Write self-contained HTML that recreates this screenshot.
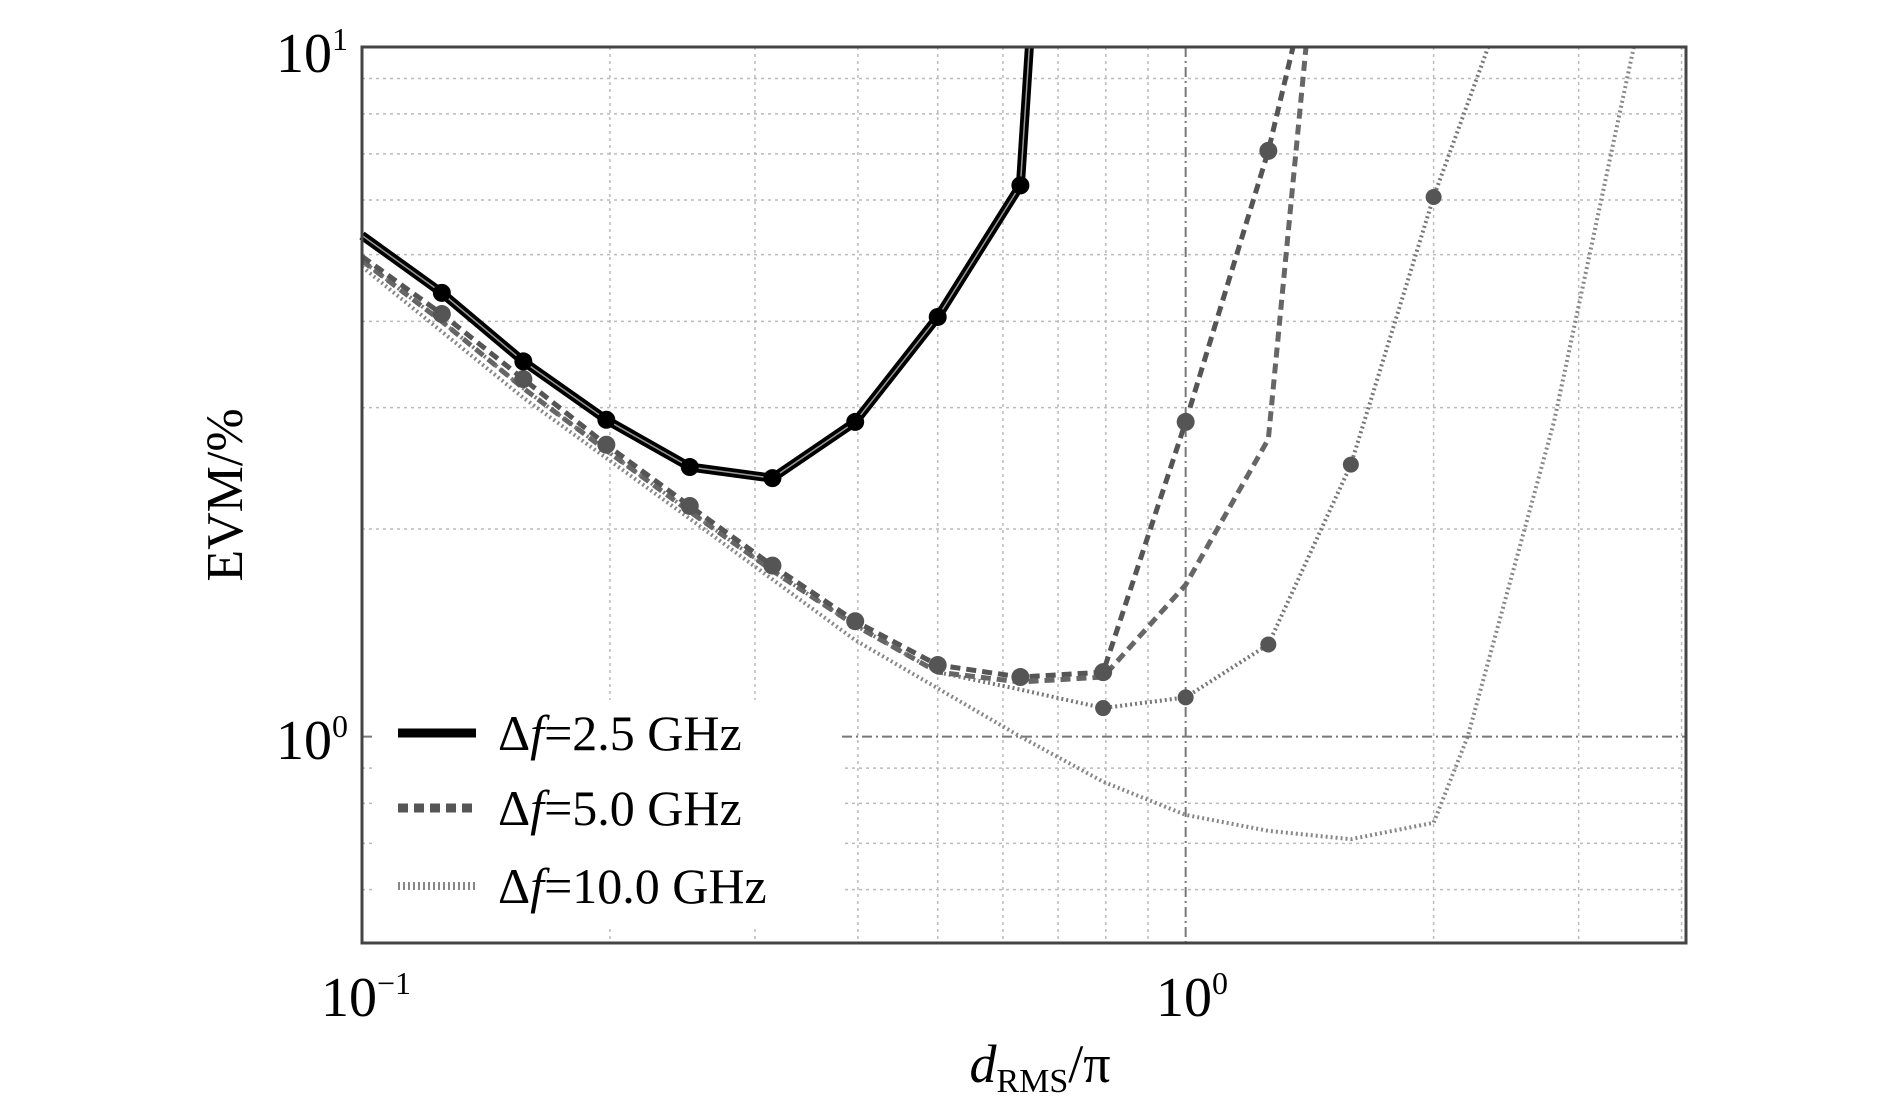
<!DOCTYPE html>
<html><head><meta charset="utf-8"><style>
html,body{margin:0;padding:0;background:#fff;}
svg{display:block;font-family:"Liberation Serif",serif;}
</style></head><body>
<svg id="chart" width="1890" height="1108" viewBox="0 0 1890 1108" xmlns="http://www.w3.org/2000/svg">
<g id="grid"></g>
<g id="series"></g>
<rect x="362" y="47" width="1324" height="896" fill="none" stroke="#444" stroke-width="3"/>
<g id="legend"></g>
<g id="labels">
 <text x="348" y="72" text-anchor="end" font-size="56">10<tspan dy="-22" font-size="32">1</tspan></text>
 <text x="348" y="759" text-anchor="end" font-size="56">10<tspan dy="-22" font-size="32">0</tspan></text>
 <text x="366" y="1016" text-anchor="middle" font-size="56">10<tspan dy="-22" font-size="32">−1</tspan></text>
 <text x="1192" y="1016" text-anchor="middle" font-size="56">10<tspan dy="-22" font-size="32">0</tspan></text>
 <text transform="translate(242,495) rotate(-90)" text-anchor="middle" font-size="52">EVM/%</text>
 <text x="1040" y="1082" text-anchor="middle" font-size="54"><tspan font-style="italic">d</tspan><tspan font-size="34" dy="10">RMS</tspan><tspan dy="-10">/π</tspan></text>
</g>
</svg>
<script>
const xMin = 0.1, xMax = 4.05, yMin = 0.502, yMax = 10;
const xGridValues = [0.2,0.3,0.4,0.5,0.6,0.7,0.8,0.9,1,2,3,4];
const yGridValues = [0.6,0.7,0.8,0.9,1,2,3,4,5,6,7,8,9];
const solidX = [0.1,0.125,0.157,0.198,0.25,0.315,0.397,0.5,0.63,0.646];
const solidY = [5.33,4.4,3.5,2.88,2.46,2.37,2.86,4.06,6.3,10];
const solidMarkers = [1,2,3,4,5,6,7,8];
const dashAX = [0.1,0.125,0.157,0.198,0.25,0.315,0.397,0.5,0.63,0.794,1.0,1.26,1.35];
const dashAY = [4.97,4.1,3.3,2.65,2.16,1.77,1.47,1.27,1.22,1.24,2.86,7.07,10];
const dashAMarkers = [1,2,3,4,5,6,7,8,9,10,11];
const dashBX = [0.1,0.125,0.157,0.198,0.25,0.315,0.397,0.5,0.63,0.794,1.0,1.26,1.4];
const dashBY = [4.9,4.0,3.2,2.6,2.12,1.74,1.45,1.24,1.2,1.22,1.66,2.7,10];
const dotAX = [0.1,0.125,0.157,0.198,0.25,0.315,0.397,0.5,0.63,0.794,1.0,1.26,1.587,2.0,2.33];
const dotAY = [4.9,4.0,3.2,2.6,2.12,1.74,1.45,1.24,1.17,1.1,1.14,1.36,2.48,6.06,10];
const dotAMarkers = [9,10,11,12,13];
const dotBX = [0.1,0.157,0.25,0.397,0.63,0.794,1.0,1.26,1.587,2.0,2.2,2.8,3.5];
const dotBY = [4.8,3.1,2.07,1.38,1.0,0.86,0.77,0.73,0.71,0.75,1.0,2.86,10];

const L=362,R=1686,T=47,B=943;
function sx(v){return L+(R-L)*Math.log10(v/xMin)/Math.log10(xMax/xMin);}
function sy(v){return B-(B-T)*Math.log10(v/yMin)/Math.log10(yMax/yMin);}
const NS='http://www.w3.org/2000/svg';
function mk(tag,attrs,parent){const e=document.createElementNS(NS,tag);for(const k in attrs)e.setAttribute(k,attrs[k]);parent.appendChild(e);return e;}
const grid=document.getElementById('grid');
xGridValues.forEach(v=>{
  const major=(v===1);
  const e=mk('line',{x1:sx(v),x2:sx(v),y1:T,y2:B,stroke:major?'#777':'#bbb','stroke-width':major?2:1.5,'stroke-dasharray':major?'10,4,2,4':'3,4'},grid);
  
  
});
yGridValues.forEach(v=>{
  const major=(v===1);
  const e=mk('line',{x1:L,x2:R,y1:sy(v),y2:sy(v),stroke:major?'#777':'#bbb','stroke-width':major?2:1.5,'stroke-dasharray':major?'10,4,2,4':'3,4'},grid);
  
  
});
const ser=document.getElementById('series');
function pts(xs,ys){return xs.map((x,i)=>sx(x)+','+Math.max(T,sy(ys[i]))).join(' ');}
function line(xs,ys,style,name){
  const e=mk('polyline',Object.assign({points:pts(xs,ys),fill:'none','stroke-linejoin':'round'},style),ser);
  
  
}
function markers(xs,ys,idx,fill,r,name){
  idx.forEach(i=>{
    const c=mk('circle',{cx:sx(xs[i]),cy:sy(ys[i]),r:r,fill:fill},ser);
    
    
  });
}
line(dotBX,dotBY,{stroke:'#888','stroke-width':4,'stroke-dasharray':'2,3'},'line-10ghz-lower');
line(dotAX,dotAY,{stroke:'#777','stroke-width':4,'stroke-dasharray':'2,3'},'line-10ghz');
line(dashBX,dashBY,{stroke:'#666','stroke-width':5,'stroke-dasharray':'10,6'},'line-5ghz-lower');
line(dashAX,dashAY,{stroke:'#555','stroke-width':5,'stroke-dasharray':'10,6'},'line-5ghz');
markers(dotAX,dotAY,dotAMarkers,'#555',8,'marker-10ghz');
markers(dashAX,dashAY,dashAMarkers,'#555',9,'marker-5ghz');
line(solidX,solidY,{stroke:'#000','stroke-width':9},'line-2-5ghz');
line(solidX,solidY,{stroke:'#999','stroke-width':1.5},'line-2-5ghz-inner');
markers(solidX,solidY,solidMarkers,'#000',9,'marker-2-5ghz');

const lg=document.getElementById('legend');
const bg=mk('rect',{x:372,y:700,width:470,height:225,fill:'#fff'},lg);


const legendLabels=['2.5','5.0','10.0'];
const legendStyles=[{stroke:'#000','stroke-width':9},{stroke:'#555','stroke-width':9,'stroke-dasharray':'10,6'},{stroke:'#888','stroke-width':8,'stroke-dasharray':'2,3'}];
const legendY=[733,808,886];
legendLabels.forEach((lab,i)=>{
  const l=mk('line',Object.assign({x1:398,x2:476,y1:legendY[i],y2:legendY[i]},legendStyles[i]),lg);
  
  
  const t=mk('text',{x:498,y:legendY[i]+17,'font-size':50},lg);
  t.innerHTML='Δ<tspan font-style="italic">f</tspan>='+lab+' GHz';
  
  
});
</script>
</body></html>
